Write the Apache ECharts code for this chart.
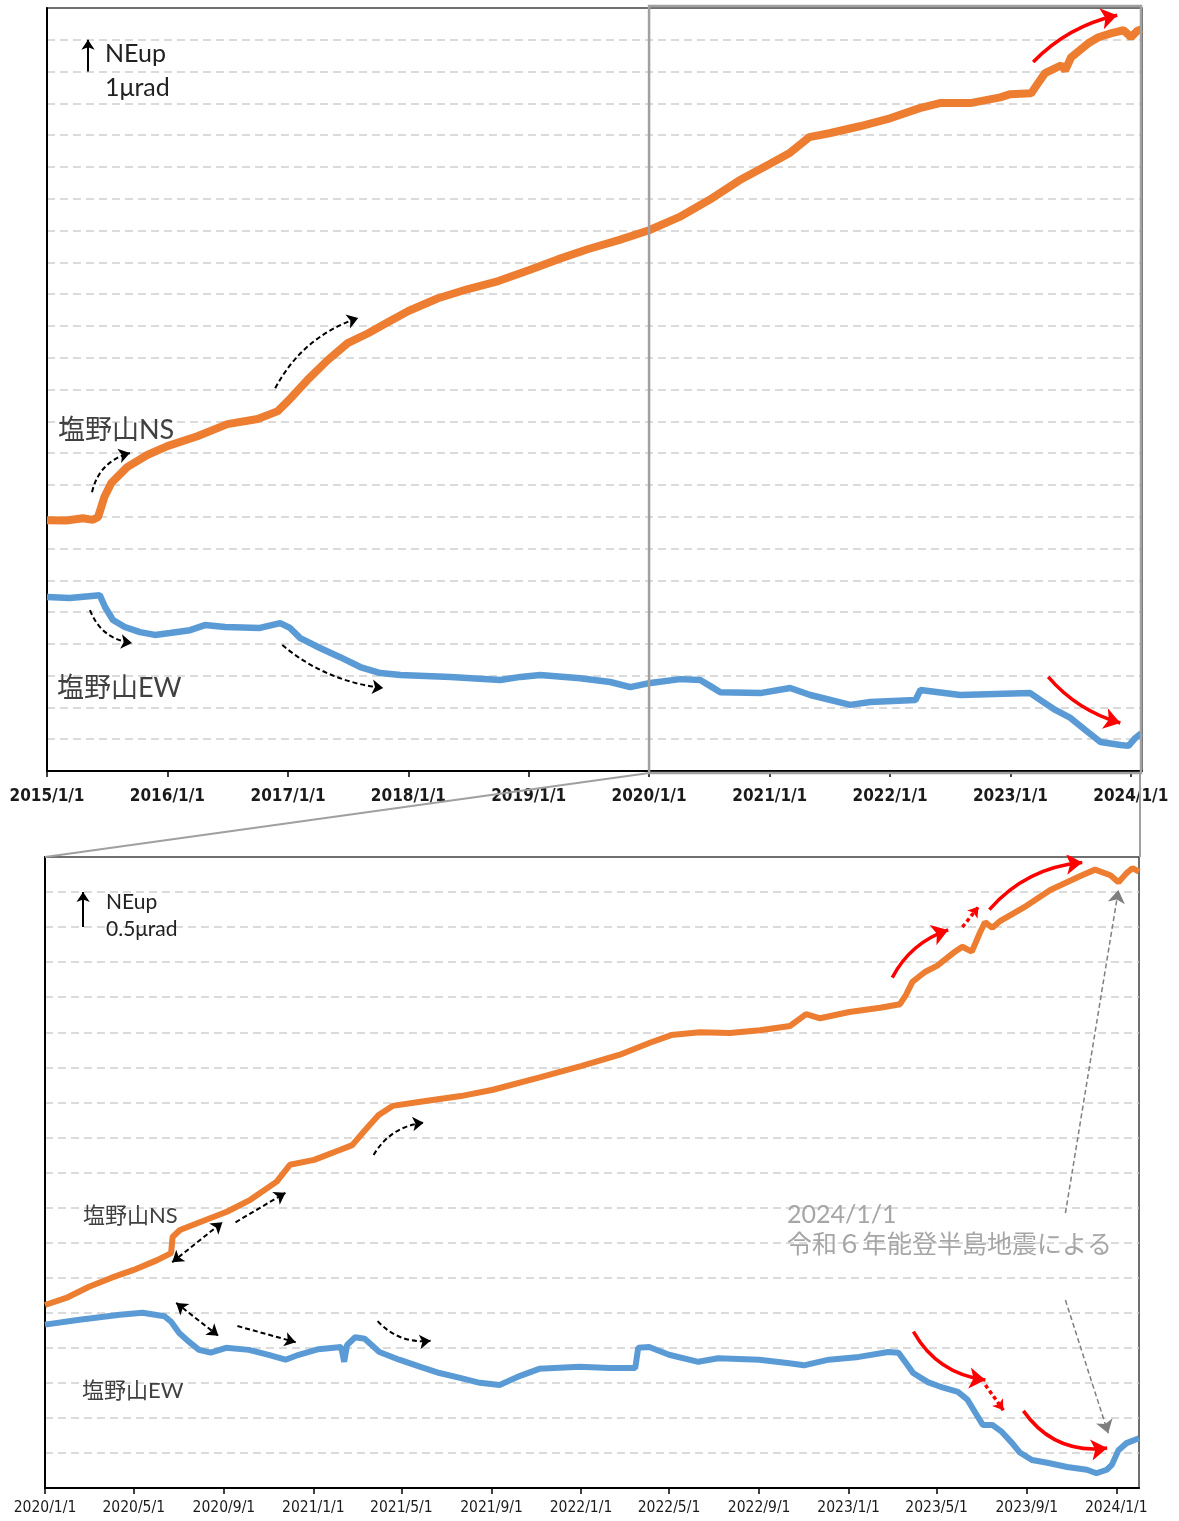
<!DOCTYPE html>
<html>
<head>
<meta charset="utf-8">
<script src="https://cdn.jsdelivr.net/npm/echarts@6/dist/echarts.min.js"></script>
<style>
html, body { margin: 0; padding: 0; background: #fff; }
#main { width: 1179px; height: 1521px; }
</style>
</head>
<body>
<div id="main"></div>
<script>
// 塩野山 傾斜計 (μrad, 値は図から読み取り)
// 上段: 2015-2024 全期間
var nsLong = [
    ['2015-01-01', 7.89], ['2015-03-01', 7.88], ['2015-04-20', 7.95], ['2015-05-20', 7.90],
    ['2015-06-05', 7.99], ['2015-06-24', 8.62], ['2015-07-15', 9.06], ['2015-09-01', 9.56],
    ['2015-11-01', 9.94], ['2016-01-01', 10.22], ['2016-04-01', 10.53], ['2016-07-01', 10.91],
    ['2016-10-01', 11.07], ['2016-12-01', 11.32], ['2017-01-01', 11.64], ['2017-03-01', 12.30],
    ['2017-05-01', 12.92], ['2017-07-01', 13.46], ['2017-09-01', 13.77], ['2017-11-01', 14.12],
    ['2018-01-01', 14.47], ['2018-04-01', 14.87], ['2018-07-01', 15.16], ['2018-10-01', 15.41],
    ['2019-01-01', 15.75], ['2019-04-01', 16.10], ['2019-07-01', 16.42], ['2019-10-01', 16.70],
    ['2020-01-01', 17.01], ['2020-04-01', 17.42], ['2020-07-01', 17.96], ['2020-10-01', 18.58],
    ['2021-01-01', 19.09], ['2021-03-01', 19.43], ['2021-05-01', 19.94], ['2021-07-01', 20.06],
    ['2021-10-01', 20.28], ['2022-01-01', 20.53], ['2022-04-01', 20.85], ['2022-06-01', 21.01],
    ['2022-09-01', 21.01], ['2022-12-01', 21.19], ['2023-01-01', 21.29], ['2023-03-05', 21.32],
    ['2023-03-26', 21.64], ['2023-04-16', 21.95], ['2023-06-04', 22.20], ['2023-06-16', 22.04],
    ['2023-07-04', 22.45], ['2023-08-25', 22.89], ['2023-09-25', 23.08], ['2023-11-04', 23.21],
    ['2023-12-10', 23.30], ['2024-01-02', 23.08], ['2024-01-20', 23.28], ['2024-02-03', 23.33]
];
var ewLong = [
    ['2015-01-01', 5.47], ['2015-03-11', 5.44], ['2015-06-10', 5.53], ['2015-06-26', 5.16],
    ['2015-07-20', 4.75], ['2015-08-25', 4.53], ['2015-10-10', 4.37], ['2015-11-24', 4.28],
    ['2016-01-09', 4.34], ['2016-03-10', 4.43], ['2016-04-24', 4.59], ['2016-06-24', 4.53],
    ['2016-10-08', 4.50], ['2016-12-08', 4.65], ['2017-01-07', 4.50], ['2017-02-07', 4.18],
    ['2017-04-08', 3.87], ['2017-06-08', 3.58], ['2017-08-08', 3.27], ['2017-10-08', 3.08],
    ['2017-12-08', 3.02], ['2018-05-09', 2.96], ['2018-10-07', 2.86], ['2018-12-07', 2.96],
    ['2019-02-05', 3.02], ['2019-06-06', 2.92], ['2019-09-05', 2.80], ['2019-11-05', 2.64],
    ['2020-01-05', 2.77], ['2020-04-05', 2.89], ['2020-06-04', 2.86], ['2020-07-05', 2.67],
    ['2020-08-04', 2.48], ['2020-12-03', 2.45], ['2021-03-04', 2.61], ['2021-05-04', 2.39],
    ['2021-09-02', 2.08], ['2021-11-02', 2.17], ['2022-03-19', 2.23], ['2022-04-03', 2.55],
    ['2022-08-02', 2.39], ['2023-03-02', 2.45], ['2023-04-02', 2.23], ['2023-05-17', 1.92],
    ['2023-07-02', 1.67], ['2023-08-16', 1.29], ['2023-10-01', 0.91], ['2023-12-01', 0.82],
    ['2023-12-25', 0.79], ['2024-01-15', 1.04], ['2024-02-02', 1.19]
];
// 下段: 2020-2024 拡大
var nsZoom = [
    ['2020-01-01', 2.61], ['2020-02-01', 2.72], ['2020-03-01', 2.87], ['2020-04-01', 3.00],
    ['2020-05-01', 3.11], ['2020-06-02', 3.25], ['2020-06-21', 3.35], ['2020-06-23', 3.58],
    ['2020-07-03', 3.68], ['2020-07-30', 3.79], ['2020-09-05', 3.94], ['2020-10-07', 4.11],
    ['2020-11-12', 4.37], ['2020-11-30', 4.61], ['2021-01-02', 4.68], ['2021-02-06', 4.82],
    ['2021-02-23', 4.89], ['2021-03-13', 5.11], ['2021-03-31', 5.32], ['2021-04-19', 5.45],
    ['2021-05-27', 5.51], ['2021-07-21', 5.59], ['2021-09-03', 5.68], ['2021-11-07', 5.86],
    ['2022-01-02', 6.02], ['2022-02-23', 6.18], ['2022-04-05', 6.35], ['2022-05-04', 6.46],
    ['2022-06-12', 6.50], ['2022-07-23', 6.49], ['2022-09-02', 6.53], ['2022-10-13', 6.59],
    ['2022-11-04', 6.76], ['2022-11-23', 6.70], ['2023-01-02', 6.79], ['2023-02-13', 6.85],
    ['2023-03-12', 6.90], ['2023-03-20', 7.03], ['2023-03-29', 7.22], ['2023-04-15', 7.36],
    ['2023-05-02', 7.45], ['2023-05-26', 7.65], ['2023-06-05', 7.72], ['2023-06-18', 7.65],
    ['2023-06-29', 7.92], ['2023-07-06', 8.07], ['2023-07-16', 7.99], ['2023-07-27', 8.09],
    ['2023-08-31', 8.30], ['2023-10-03', 8.53], ['2023-11-13', 8.73], ['2023-12-03', 8.82],
    ['2023-12-24', 8.74], ['2024-01-04', 8.64], ['2024-01-15', 8.77], ['2024-01-23', 8.84],
    ['2024-02-01', 8.79]
];
var ewZoom = [
    ['2020-01-01', 2.33], ['2020-02-17', 2.40], ['2020-04-12', 2.47], ['2020-05-13', 2.50],
    ['2020-06-12', 2.45], ['2020-06-21', 2.37], ['2020-07-02', 2.21], ['2020-07-16', 2.08],
    ['2020-07-29', 1.97], ['2020-08-14', 1.93], ['2020-09-04', 2.00], ['2020-10-05', 1.97],
    ['2020-11-01', 1.90], ['2020-11-24', 1.83], ['2020-12-12', 1.90], ['2021-01-08', 1.98],
    ['2021-02-08', 2.01], ['2021-02-12', 1.80], ['2021-02-16', 2.04], ['2021-02-27', 2.15],
    ['2021-03-12', 2.13], ['2021-04-01', 1.94], ['2021-04-28', 1.83], ['2021-05-26', 1.73],
    ['2021-06-22', 1.64], ['2021-07-20', 1.57], ['2021-08-16', 1.50], ['2021-09-12', 1.47],
    ['2021-10-10', 1.60], ['2021-11-05', 1.70], ['2021-12-30', 1.73], ['2022-02-09', 1.71],
    ['2022-03-16', 1.71], ['2022-03-20', 2.00], ['2022-04-04', 2.01], ['2022-05-01', 1.90],
    ['2022-06-10', 1.80], ['2022-07-07', 1.85], ['2022-09-01', 1.83], ['2022-10-12', 1.78],
    ['2022-11-01', 1.75], ['2022-12-05', 1.83], ['2023-01-15', 1.87], ['2023-02-24', 1.94],
    ['2023-03-10', 1.93], ['2023-03-19', 1.80], ['2023-03-30', 1.64], ['2023-04-19', 1.51],
    ['2023-05-10', 1.43], ['2023-05-30', 1.37], ['2023-06-12', 1.26], ['2023-06-23', 1.07],
    ['2023-07-03', 0.90], ['2023-07-16', 0.90], ['2023-07-29', 0.80], ['2023-08-12', 0.64],
    ['2023-08-22', 0.51], ['2023-09-08', 0.40], ['2023-09-29', 0.36], ['2023-10-26', 0.30],
    ['2023-11-22', 0.26], ['2023-12-05', 0.21], ['2023-12-19', 0.26], ['2023-12-26', 0.33],
    ['2024-01-04', 0.54], ['2024-01-15', 0.64], ['2024-02-01', 0.71]
];
var topTickLabels = ['2015/1/1', '2016/1/1', '2017/1/1', '2018/1/1', '2019/1/1',
    '2020/1/1', '2021/1/1', '2022/1/1', '2023/1/1', '2024/1/1'];
var bottomTickLabels = ['2020/1/1', '2020/5/1', '2020/9/1', '2021/1/1', '2021/5/1', '2021/9/1',
    '2022/1/1', '2022/5/1', '2022/9/1', '2023/1/1', '2023/5/1', '2023/9/1', '2024/1/1'];

// 矢印 [開始年(小数), 値], [終了年, 値], 曲率, 両矢印
var topDashArrows = [
    [[2015.374, 8.77], [2015.689, 10.00], 0.3],
    [[2016.894, 12.04], [2017.583, 14.25], 0.2],
    [[2015.357, 5.06], [2015.706, 4.03], -0.3],
    [[2016.952, 3.96], [2017.791, 2.61], -0.15]
];
var topRedArrows = [
    [[2023.189, 22.30], [2023.887, 23.77], 0.15],
    [[2023.314, 2.96], [2023.913, 1.51], -0.15]
];
var bottomDashArrows = [
    [[2020.474, 3.22], [2020.661, 3.79], 0, true],
    [[2020.710, 3.79], [2020.896, 4.21], 0],
    [[2021.225, 4.75], [2021.412, 5.21], 0.25],
    [[2020.489, 2.64], [2020.646, 2.17], 0, true],
    [[2020.717, 2.31], [2020.934, 2.08], 0],
    [[2021.240, 2.38], [2021.438, 2.10], -0.25]
];
var bottomRedArrows = [
    [[2023.163, 7.28], [2023.372, 7.96], 0.2],
    [[2023.526, 8.25], [2023.873, 8.92], 0.2],
    [[2023.242, 2.23], [2023.511, 1.54], -0.25],
    [[2023.653, 1.10], [2023.966, 0.57], -0.3]
];
var bottomRedDashArrows = [
    [[2023.425, 8.00], [2023.485, 8.29], 0],
    [[2023.511, 1.47], [2023.578, 1.11], 0]
];
var grayArrows = [
    [[2023.810, 3.92], [2024.008, 8.53], 0],
    [[2023.810, 2.68], [2023.970, 0.78], 0]
];

var FONT = 'Lato, "Noto Sans CJK JP", sans-serif';
var AXFONT = '"DejaVu Sans Condensed", "DejaVu Sans", sans-serif';
var ORANGE = '#ED7D31';
var BLUE = '#5B9BD5';

function parseTick(s) {
    var p = s.split('/');
    return new Date(+p[0], +p[1] - 1, +p[2]).getTime();
}
function parseDay(s) {
    var p = s.split('-');
    return new Date(+p[0], +p[1] - 1, +p[2]).getTime();
}
function toPoints(list) {
    return list.map(function (p) { return [parseDay(p[0]), p[1]]; });
}
function yr(y) {
    var year = Math.floor(y);
    var a = new Date(year, 0, 1).getTime();
    var b = new Date(year + 1, 0, 1).getTime();
    return a + (y - year) * (b - a);
}
function fmtDate(v) {
    var d = new Date(v);
    return d.getFullYear() + '/' + (d.getMonth() + 1) + '/' + d.getDate();
}
function arrowData(list) {
    return list.map(function (a) {
        var item = {
            coords: [[yr(a[0][0]), a[0][1]], [yr(a[1][0]), a[1][1]]],
            lineStyle: { curveness: a[2] }
        };
        if (a[3]) item.symbol = ['arrow', 'arrow'];
        return item;
    });
}
function arrowSeries(idx, list, color, width, type, size) {
    return {
        type: 'lines', coordinateSystem: 'cartesian2d',
        xAxisIndex: idx, yAxisIndex: idx,
        symbol: ['none', 'arrow'], symbolSize: size,
        lineStyle: { color: color, width: width, type: type, opacity: 1 },
        data: arrowData(list), silent: true, z: 6
    };
}

var topTicks = topTickLabels.map(parseTick);
var bottomTicks = bottomTickLabels.map(parseTick);

var G0 = { left: 47, top: 8, width: 1095, height: 763 };
var G1 = { left: 45, top: 857, width: 1094, height: 631 };

var chart = echarts.init(document.getElementById('main'));

function xAxisOf(idx, ticks, min, max, fontSize, weight, margin) {
    return {
        type: 'value', gridIndex: idx, min: min, max: max, scale: true,
        axisLine: { show: true, onZero: false, lineStyle: { color: '#000', width: 2 } },
        axisTick: { show: true, customValues: ticks, length: 6, lineStyle: { color: '#000', width: 1.5 } },
        axisLabel: {
            customValues: ticks, formatter: fmtDate, fontSize: fontSize, fontWeight: weight,
            fontFamily: AXFONT, color: '#1a1a1a', margin: margin
        },
        splitLine: { show: false }
    };
}
function yAxisOf(idx, max, interval) {
    return {
        type: 'value', gridIndex: idx, min: 0, max: max, interval: interval,
        axisLabel: { show: false }, axisTick: { show: false },
        axisLine: { show: true, lineStyle: { color: '#000', width: 2 } },
        splitLine: { show: true, showMinLine: false, showMaxLine: false,
            lineStyle: { color: '#d0d0d0', width: 1.5, type: [8, 5] } }
    };
}

chart.setOption({
    animation: false,
    backgroundColor: '#fff',
    grid: [
        { left: G0.left, top: G0.top, width: G0.width, height: G0.height, show: true, borderColor: '#404040', borderWidth: 1.5 },
        { left: G1.left, top: G1.top, width: G1.width, height: G1.height, show: true, borderColor: '#404040', borderWidth: 1.5 }
    ],
    xAxis: [
        xAxisOf(0, topTicks, parseTick('2015/1/1'), parseTick('2024/2/4'), 17, 'bold', 17),
        xAxisOf(1, bottomTicks, parseTick('2020/1/1'), parseTick('2024/2/1'), 15.5, 'normal', 12)
    ],
    yAxis: [yAxisOf(0, 24, 1), yAxisOf(1, 9, 0.5)],
    series: [
        { type: 'line', name: '塩野山NS', xAxisIndex: 0, yAxisIndex: 0, data: toPoints(nsLong), symbol: 'none',
          lineStyle: { color: ORANGE, width: 8 }, z: 3 },
        { type: 'line', name: '塩野山EW', xAxisIndex: 0, yAxisIndex: 0, data: toPoints(ewLong), symbol: 'none',
          lineStyle: { color: BLUE, width: 6.5 }, z: 3 },
        { type: 'line', name: '塩野山NS', xAxisIndex: 1, yAxisIndex: 1, data: toPoints(nsZoom), symbol: 'none',
          lineStyle: { color: ORANGE, width: 6 }, z: 3 },
        { type: 'line', name: '塩野山EW', xAxisIndex: 1, yAxisIndex: 1, data: toPoints(ewZoom), symbol: 'none',
          lineStyle: { color: BLUE, width: 6 }, z: 3 },
        // 縮尺矢印
        arrowSeries(0, [[[2015.341, 22], [2015.341, 23], 0]], '#000', 2, 'solid', 10),
        arrowSeries(1, [[[2020.142, 8], [2020.142, 8.5], 0]], '#000', 2, 'solid', 10),
        arrowSeries(0, topDashArrows, '#000', 2, [5, 3], 11),
        arrowSeries(0, topRedArrows, '#ff0000', 3.5, 'solid', 16),
        arrowSeries(1, bottomDashArrows, '#000', 2, [5, 3], 11),
        arrowSeries(1, bottomRedArrows, '#ff0000', 3.5, 'solid', 16),
        arrowSeries(1, bottomRedDashArrows, '#ff0000', 3.5, [4, 3], 10),
        arrowSeries(1, grayArrows, '#7f7f7f', 1.5, [5, 3], 13)
    ]
});

// 拡大範囲の枠と引出線、注記テキスト
var x2020 = chart.convertToPixel({ xAxisIndex: 0 }, parseTick('2020/1/1'));
var xRight = G0.left + G0.width;
var bottom0 = G0.top + G0.height;
function txt(x, y, s, size, color) {
    return { type: 'text', left: x, top: y - size * 0.6, z: 10, silent: true,
        style: { text: s, fontSize: size, fontFamily: FONT, fill: color } };
}
chart.setOption({
    graphic: [
        { type: 'rect', z: 8, silent: true,
          shape: { x: x2020, y: G0.top - 2, width: xRight - x2020 - 1, height: G0.height + 4 },
          style: { fill: null, stroke: '#a0a0a0', lineWidth: 2.5 } },
        { type: 'line', z: 8, silent: true,
          shape: { x1: x2020, y1: bottom0 + 2, x2: G1.left, y2: G1.top },
          style: { stroke: '#a0a0a0', lineWidth: 2 } },
        { type: 'line', z: 8, silent: true,
          shape: { x1: xRight - 2, y1: bottom0 + 2, x2: xRight - 2, y2: G1.top },
          style: { stroke: '#a0a0a0', lineWidth: 2 } },
        txt(105, 56, 'NEup', 25, '#222'),
        txt(105, 90, '1μrad', 25, '#222'),
        txt(58, 433, '塩野山NS', 27, '#404040'),
        txt(57, 691, '塩野山EW', 27, '#404040'),
        txt(106, 904, 'NEup', 21, '#222'),
        txt(106, 931, '0.5μrad', 21, '#222'),
        txt(83, 1218, '塩野山NS', 22, '#404040'),
        txt(82, 1393, '塩野山EW', 22, '#404040'),
        txt(787, 1217, '2024/1/1', 25, '#a6a6a6'),
        txt(787, 1247, '令和６年能登半島地震による', 25, '#a6a6a6')
    ]
});
</script>
</body>
</html>
